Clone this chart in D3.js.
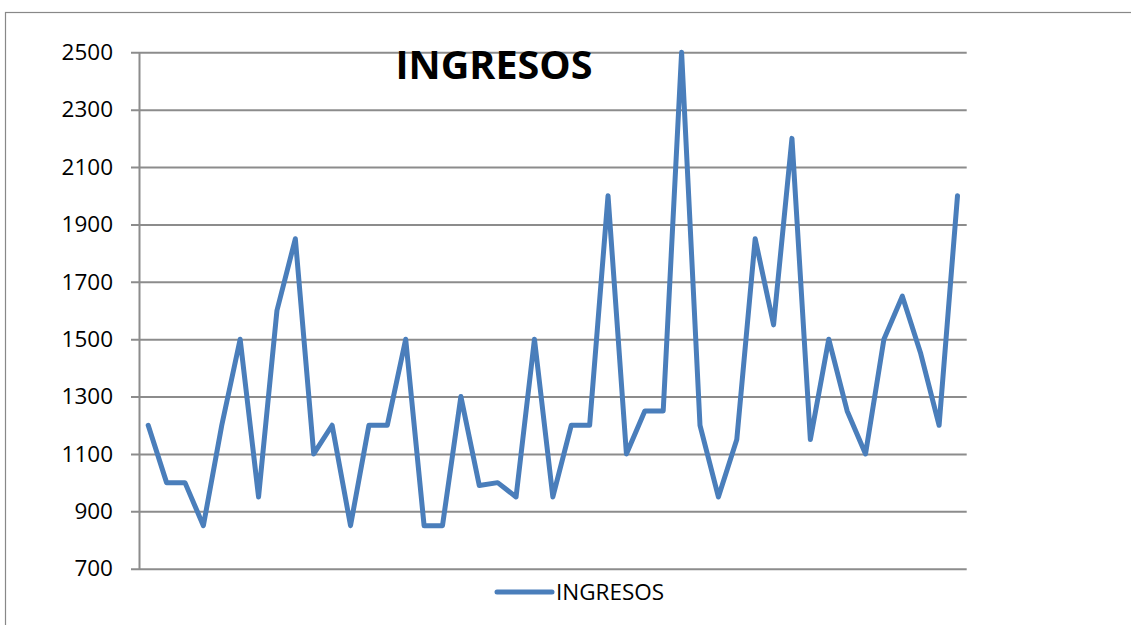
<!DOCTYPE html>
<html>
<head>
<meta charset="utf-8">
<script src="https://cdn.jsdelivr.net/npm/d3@7"></script>
<style>
    body { margin: 0; background: #fff; }
    svg { display: block; font-family: "Open Sans", sans-serif; }
</style>
</head>
<body>
<div id="chart"></div>
<script>
// Chart data
const chartTitle = 'INGRESOS';
const seriesName = 'INGRESOS';
const categories = d3.range(1, 46);
const ingresos = [
    1200, 1000, 1000, 850, 1200, 1500, 950, 1600, 1850, 1100,
    1200, 850, 1200, 1200, 1500, 850, 850, 1300, 990, 1000,
    950, 1500, 950, 1200, 1200, 2000, 1100, 1250, 1250, 2500,
    1200, 950, 1150, 1850, 1550, 2200, 1150, 1500, 1250, 1100,
    1500, 1650, 1450, 1200, 2000
];
const yTicks = [700, 900, 1100, 1300, 1500, 1700, 1900, 2100, 2300, 2500];

const width = 1131, height = 625;
const plot = { left: 139, right: 966.7, top: 52.3, bottom: 568.7 };

const svg = d3.select('#chart')
    .append('svg')
    .attr('width', width)
    .attr('height', height);

// Outer chart frame (cut off at right and bottom)
svg.append('rect')
    .attr('x', 5.5)
    .attr('y', 12.5)
    .attr('width', 1200)
    .attr('height', 700)
    .attr('fill', 'none')
    .attr('stroke', '#888')
    .attr('stroke-width', 1.2);

// Scales
const x = d3.scaleBand()
    .domain(categories)
    .range([plot.left, plot.right]);

const y = d3.scaleLinear()
    .domain([700, 2500])
    .range([plot.bottom, plot.top]);

// Grid lines + tick marks
svg.append('g')
    .attr('transform', `translate(${plot.right},0)`)
    .call(d3.axisLeft(y)
        .tickValues(yTicks)
        .tickSize(plot.right - 131)
        .tickFormat(''))
    .call(g => g.select('.domain').remove())
    .selectAll('line')
    .attr('stroke', '#8c8c8c')
    .attr('stroke-width', 2);

// Y axis
const yAxis = svg.append('g')
    .attr('transform', `translate(${plot.left},0)`)
    .call(d3.axisLeft(y)
        .tickValues(yTicks)
        .tickSize(0)
        .tickPadding(26)
        .tickFormat(d3.format('d')));

yAxis.select('.domain')
    .attr('stroke', '#8c8c8c')
    .attr('stroke-width', 2);

yAxis.selectAll('text')
    .attr('font-size', '22.5px')
    .attr('font-family', '"Open Sans", sans-serif')
    .attr('fill', '#000');

// Series line
const line = d3.line()
    .x((d, i) => x(categories[i]) + x.bandwidth() / 2)
    .y(d => y(d));

svg.append('path')
    .datum(ingresos)
    .attr('d', line)
    .attr('fill', 'none')
    .attr('stroke', '#4a7ebb')
    .attr('stroke-width', 5)
    .attr('stroke-linejoin', 'round')
    .attr('stroke-linecap', 'round');

// Title
svg.append('text')
    .attr('x', 494)
    .attr('y', 79)
    .attr('text-anchor', 'middle')
    .attr('font-size', '39.5px')
    .attr('font-weight', 'bold')
    .attr('fill', '#000')
    .text(chartTitle);

// Legend
const legend = svg.append('g')
    .attr('transform', 'translate(497, 592)');

legend.append('line')
    .attr('x1', 0)
    .attr('x2', 55)
    .attr('stroke', '#4a7ebb')
    .attr('stroke-width', 5)
    .attr('stroke-linecap', 'round');

legend.append('text')
    .attr('x', 59)
    .attr('y', 8)
    .attr('font-size', '22.5px')
    .attr('fill', '#000')
    .text(seriesName);
</script>
</body>
</html>
